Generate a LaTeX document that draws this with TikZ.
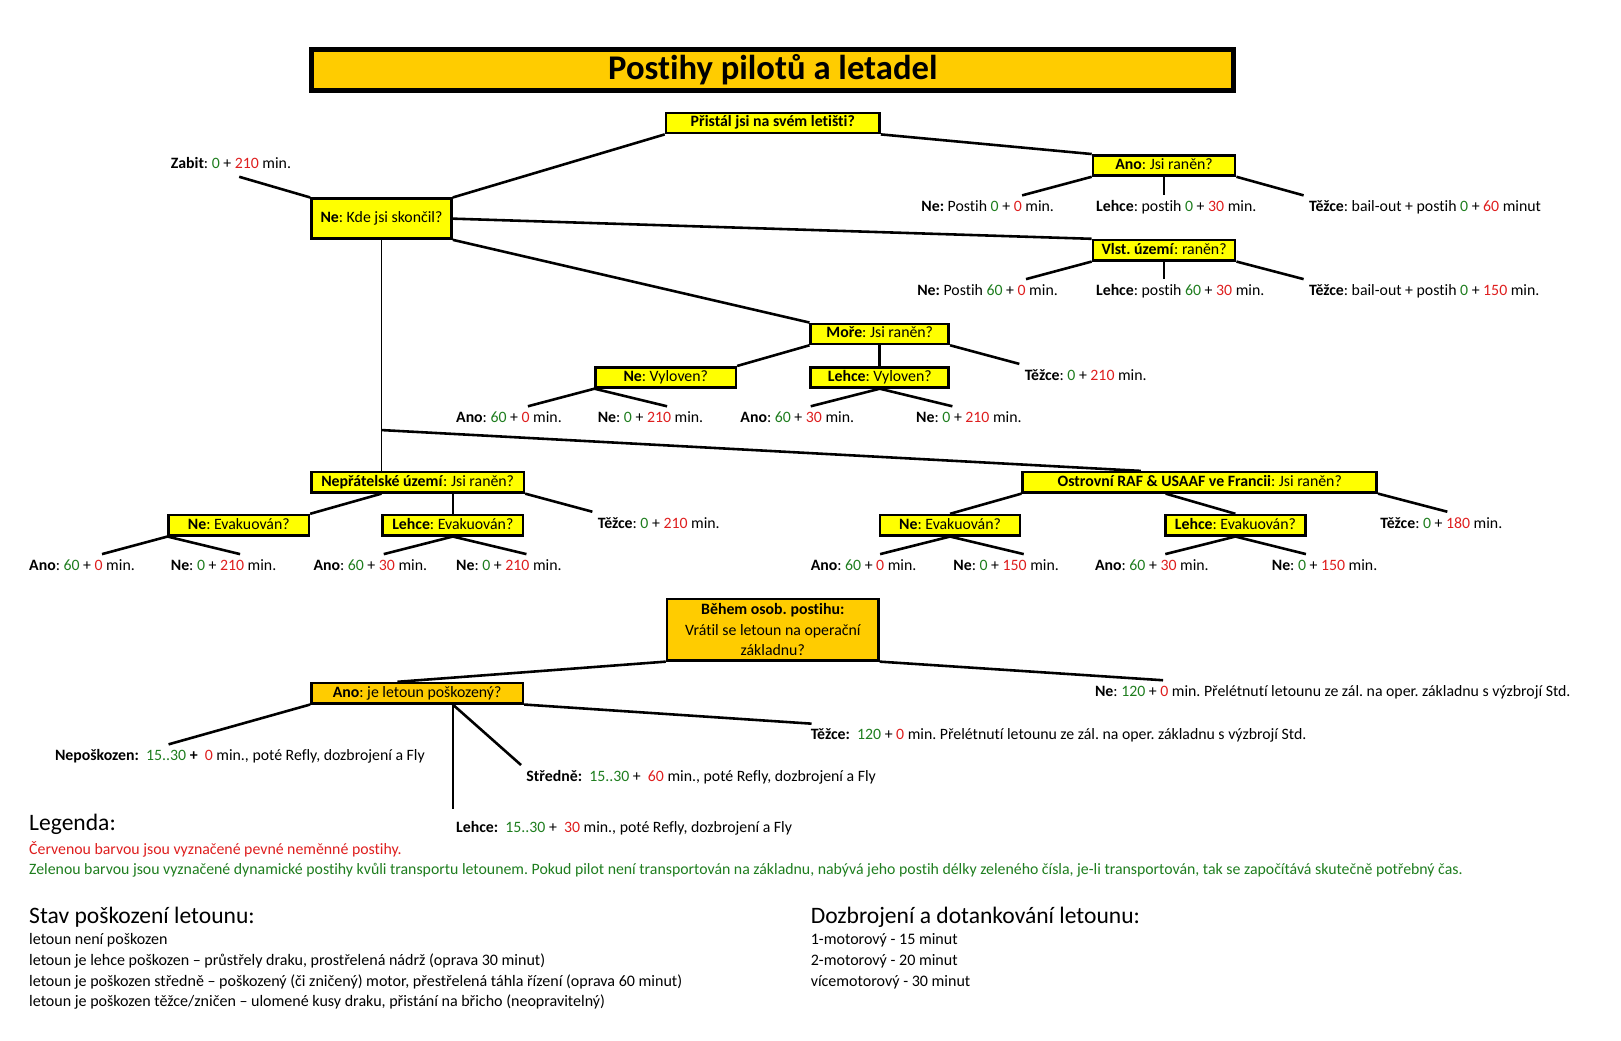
\documentclass[tikz,border=0pt]{standalone}
\usepackage{fontspec}
\setmainfont{Carlito}[Ligatures={TeX,NoCommon}]
\usepackage{tikz}

\definecolor{zlata}{RGB}{255,204,0}
\definecolor{zluta}{RGB}{255,255,0}
\definecolor{cervena}{RGB}{222,30,30}
\definecolor{zelena}{RGB}{30,125,30}
\newcommand{\zel}[1]{\textcolor{zelena}{#1}}
\newcommand{\cer}[1]{\textcolor{cervena}{#1}}
\frenchspacing

\begin{document}
\begin{tikzpicture}[x=1pt,y=-1pt,line width=2.5pt,
                    font=\fontsize{15.3}{17}\selectfont]
  \tikzstyle{otazka}=[draw,fill=zluta,line width=2.5pt,inner sep=0pt,minimum height=19.5pt,
                      text height=10.5pt,text depth=3pt]
  \tikzstyle{vysledek}=[anchor=west,inner sep=4pt,text height=10.5pt,text depth=3pt]
  \tikzstyle{radek}=[anchor=west,inner sep=0pt]
  \tikzstyle{nadpis}=[radek,font=\fontsize{22.8}{26}\selectfont]

  \useasboundingbox (0,0) rectangle (1568,1006);

  \node[draw,line width=5pt,fill=zlata,inner sep=0pt,minimum width=892pt,minimum height=40pt,
        font=\fontsize{33.5}{36}\selectfont\bfseries] (titul) at (747.5,67.5) {Postihy pilotů a letadel};

  % otazky
  \node[otazka,minimum width=206.5pt] (A) at (747.5,119) {\textbf{Přistál jsi na svém letišti?}};
  \node[otazka,minimum width=137.5pt] (B) at (1126,160) {\textbf{Ano}: Jsi raněn?};
  \node[otazka,minimum width=135.5pt,minimum height=38.5pt] (C) at (369,211.5) {\textbf{Ne}: Kde jsi skončil?};
  \node[otazka,minimum width=137.5pt] (D) at (1126,242) {\textbf{Vlst. území}: raněn?};
  \node[otazka,minimum width=133.5pt] (E) at (851,323) {\textbf{Moře}: Jsi raněn?};
  \node[otazka,minimum width=135.5pt] (F) at (644,365) {\textbf{Ne}: Vyloven?};
  \node[otazka,minimum width=133.5pt] (G) at (851,365) {\textbf{Lehce}: Vyloven?};
  \node[otazka,minimum width=205.5pt] (H) at (404,466.5) {\textbf{Nepřátelské území}: Jsi raněn?};
  \node[otazka,minimum width=135.5pt] (I) at (231,508) {\textbf{Ne}: Evakuován?};
  \node[otazka,minimum width=135.5pt] (J) at (438,508) {\textbf{Lehce}: Evakuován?};
  \node[otazka,minimum width=342.5pt] (K) at (1160.5,466.5) {\textbf{Ostrovní RAF \& USAAF ve Francii}: Jsi raněn?};
  \node[otazka,minimum width=135.5pt] (L) at (919,508) {\textbf{Ne}: Evakuován?};
  \node[otazka,minimum width=135.5pt] (M) at (1195,508) {\textbf{Lehce}: Evakuován?};
  \node[draw,fill=zlata,line width=2.5pt,inner sep=0pt,minimum width=204.5pt,minimum height=59.5pt,
        align=center,font=\fontsize{15.3}{20}\selectfont] (N) at (747.5,609)
        {\textbf{Během osob. postihu:}\\Vrátil se letoun na operační\\základnu?};
  \node[otazka,fill=zlata,minimum width=204.5pt] (O) at (403.5,670.5) {\textbf{Ano}: je letoun poškozený?};

  % vysledky
  \node[vysledek] (zabit)  at (160,159)  {\textbf{Zabit}: \zel{0} + \cer{210} min.};
  \node[vysledek] (bne)    at (886,201)  {\textbf{Ne:} Postih \zel{0} + \cer{0} min.};
  \node[vysledek] (blehce) at (1055,201) {\textbf{Lehce}: postih \zel{0} + \cer{30} min.};
  \node[vysledek] (btezce) at (1261,201) {\textbf{Těžce}: bail-out + postih \zel{0} + \cer{60} minut};
  \node[vysledek] (dne)    at (882,282)  {\textbf{Ne:} Postih \zel{60} + \cer{0} min.};
  \node[vysledek] (dlehce) at (1055,282) {\textbf{Lehce}: postih \zel{60} + \cer{30} min.};
  \node[vysledek] (dtezce) at (1261,282) {\textbf{Těžce}: bail-out + postih \zel{0} + \cer{150} min.};
  \node[vysledek] (etezce) at (986,364)  {\textbf{Těžce}: \zel{0} + \cer{210} min.};
  \node[vysledek] (fano)   at (436,405)  {\textbf{Ano}: \zel{60} + \cer{0} min.};
  \node[vysledek] (fne)    at (573,405)  {\textbf{Ne}: \zel{0} + \cer{210} min.};
  \node[vysledek] (gano)   at (711,405)  {\textbf{Ano}: \zel{60} + \cer{30} min.};
  \node[vysledek] (gne)    at (881,405)  {\textbf{Ne}: \zel{0} + \cer{210} min.};
  \node[vysledek] (htezce) at (573,507)  {\textbf{Těžce}: \zel{0} + \cer{210} min.};
  \node[vysledek] (iano)   at (23,548)   {\textbf{Ano}: \zel{60} + \cer{0} min.};
  \node[vysledek] (ine)    at (160,548)  {\textbf{Ne}: \zel{0} + \cer{210} min.};
  \node[vysledek] (jano)   at (298,548)  {\textbf{Ano}: \zel{60} + \cer{30} min.};
  \node[vysledek] (jne)    at (436,548)  {\textbf{Ne}: \zel{0} + \cer{210} min.};
  \node[vysledek] (ktezce) at (1330,507) {\textbf{Těžce}: \zel{0} + \cer{180} min.};
  \node[vysledek] (lano)   at (779,548)  {\textbf{Ano}: \zel{60} + \cer{0} min.};
  \node[vysledek] (lne)    at (917,548)  {\textbf{Ne}: \zel{0} + \cer{150} min.};
  \node[vysledek] (mano)   at (1054,548) {\textbf{Ano}: \zel{60} + \cer{30} min.};
  \node[vysledek] (mne)    at (1225,548) {\textbf{Ne}: \zel{0} + \cer{150} min.};
  \node[vysledek] (nne)    at (1054,670) {\textbf{Ne}: \zel{120} + \cer{0} min. Přelétnutí letounu ze zál. na oper. základnu s výzbrojí Std.};
  \node[vysledek] (otezce) at (779,712)  {\textbf{Těžce:}\ \ \zel{120} + \cer{0} min. Přelétnutí letounu ze zál. na oper. základnu s výzbrojí Std.};
  \node[vysledek] (onepo)  at (48,732)   {\textbf{Nepoškozen:}\ \ \zel{15..30} \textbf{+}\ \ \cer{0} min., poté Refly, dozbrojení a Fly};
  \node[vysledek] (ostred) at (504,752)  {\textbf{Středně:}\ \ \zel{15..30} +\ \ \cer{60} min., poté Refly, dozbrojení a Fly};
  \node[vysledek] (olehce) at (436,802)  {\textbf{Lehce:}\ \ \zel{15..30} +\ \ \cer{30} min., poté Refly, dozbrojení a Fly};

  % spojnice
  \draw (A.south west) -- (C.north east);
  \draw (A.south east) -- (B.north west);
  \draw ([xshift=8pt]zabit.south) -- (C.north west);
  \draw (C.east) -- (D.north west);
  \draw (C.south east) -- (E.north west);
  \draw[line width=1.5pt] (C.south) -- (C.south |- H.north);
  \coordinate (rozcesti) at (369,416);
  \draw (rozcesti) -- ([xshift=-57pt]K.north);

  \draw (B.south west) -- ([xshift=-36pt]bne.north east);
  \draw (B.south) -- (B.south |- blehce.north);
  \draw (B.south east) -- (btezce.north west);
  \draw (D.south west) -- ([xshift=-36pt]dne.north east);
  \draw (D.south) -- (D.south |- dlehce.north);
  \draw (D.south east) -- (dtezce.north west);

  \draw (E.south west) -- (F.north east);
  \draw (E.south) -- (G.north);
  \draw (E.south east) -- (etezce.north west);
  \draw (F.south west) -- ([xshift=-38pt]fano.north east);
  \draw (F.south west) -- ([xshift=16pt]fne.north);
  \draw (G.south) -- ([xshift=13pt]gano.north);
  \draw (G.south) -- ([xshift=-16pt]gne.north);

  \draw (C.south |- H.south) -- (I.north east);
  \draw (J.north |- H.south) -- (J.north);
  \draw (H.south east) -- (htezce.north west);
  \draw (I.south west) -- ([xshift=-37pt]iano.north east);
  \draw (I.south west) -- ([xshift=16pt]ine.north);
  \draw (J.south) -- ([xshift=13pt]jano.north);
  \draw (J.south) -- ([xshift=17pt]jne.north);

  \draw (K.south west) -- (L.north);
  \draw ([xshift=-33pt]K.south) -- (M.north);
  \draw (K.south east) -- ([xshift=70pt]ktezce.north west);
  \draw (L.south) -- ([xshift=16pt]lano.north);
  \draw (L.south) -- ([xshift=17pt]lne.north);
  \draw (M.south) -- ([xshift=13pt]mano.north);
  \draw (M.south) -- ([xshift=-18pt]mne.north);

  \draw (N.south west) -- ([xshift=-19pt]O.north);
  \draw (N.south east) -- ([xshift=71pt]nne.north west);
  \draw (O.south west) -- ([xshift=-69pt]onepo.north);
  \draw (O.south east) -- ([xshift=6pt]otezce.north west);
  \draw[line width=1.5pt] ([xshift=2pt]olehce.north west |- O.south) -- ([xshift=2pt,yshift=7pt]olehce.north west);
  \draw ([xshift=2pt]olehce.north west |- O.south) -- (ostred.north west);

  % legenda
  \node[nadpis] (legenda) at (27,797) {Legenda:};
  \node[radek,text=cervena] (cerveny) at (27,822) {Červenou barvou jsou vyznačené pevné neměnné postihy.};
  \node[radek,text=zelena] (zeleny) at (27,842) {Zelenou barvou jsou vyznačené dynamické postihy kvůli transportu letounem. Pokud pilot není transportován na základnu, nabývá jeho postih délky zeleného čísla, je-li transportován, tak se započítává skutečně potřebný čas.};

  \node[nadpis] (stav) at (27,887) {Stav poškození letounu:};
  \node[radek,anchor=north west,align=left,font=\fontsize{15.5}{20}\selectfont] (stavy) at (27,902)
    {letoun není poškozen\\
     letoun je lehce poškozen – průstřely draku, prostřelená nádrž (oprava 30 minut)\\
     letoun je poškozen středně – poškozený (či zničený) motor, přestřelená táhla řízení (oprava 60 minut)\\
     letoun je poškozen těžce/zničen – ulomené kusy draku, přistání na břicho (neopravitelný)};

  \node[nadpis] (dozbrojeni) at (783,887) {Dozbrojení a dotankování letounu:};
  \node[radek,anchor=north west,align=left,font=\fontsize{15.5}{20}\selectfont] (motory) at (783,902)
    {1-motorový - 15 minut\\
     2-motorový - 20 minut\\
     vícemotorový - 30 minut};
\end{tikzpicture}
\end{document}
